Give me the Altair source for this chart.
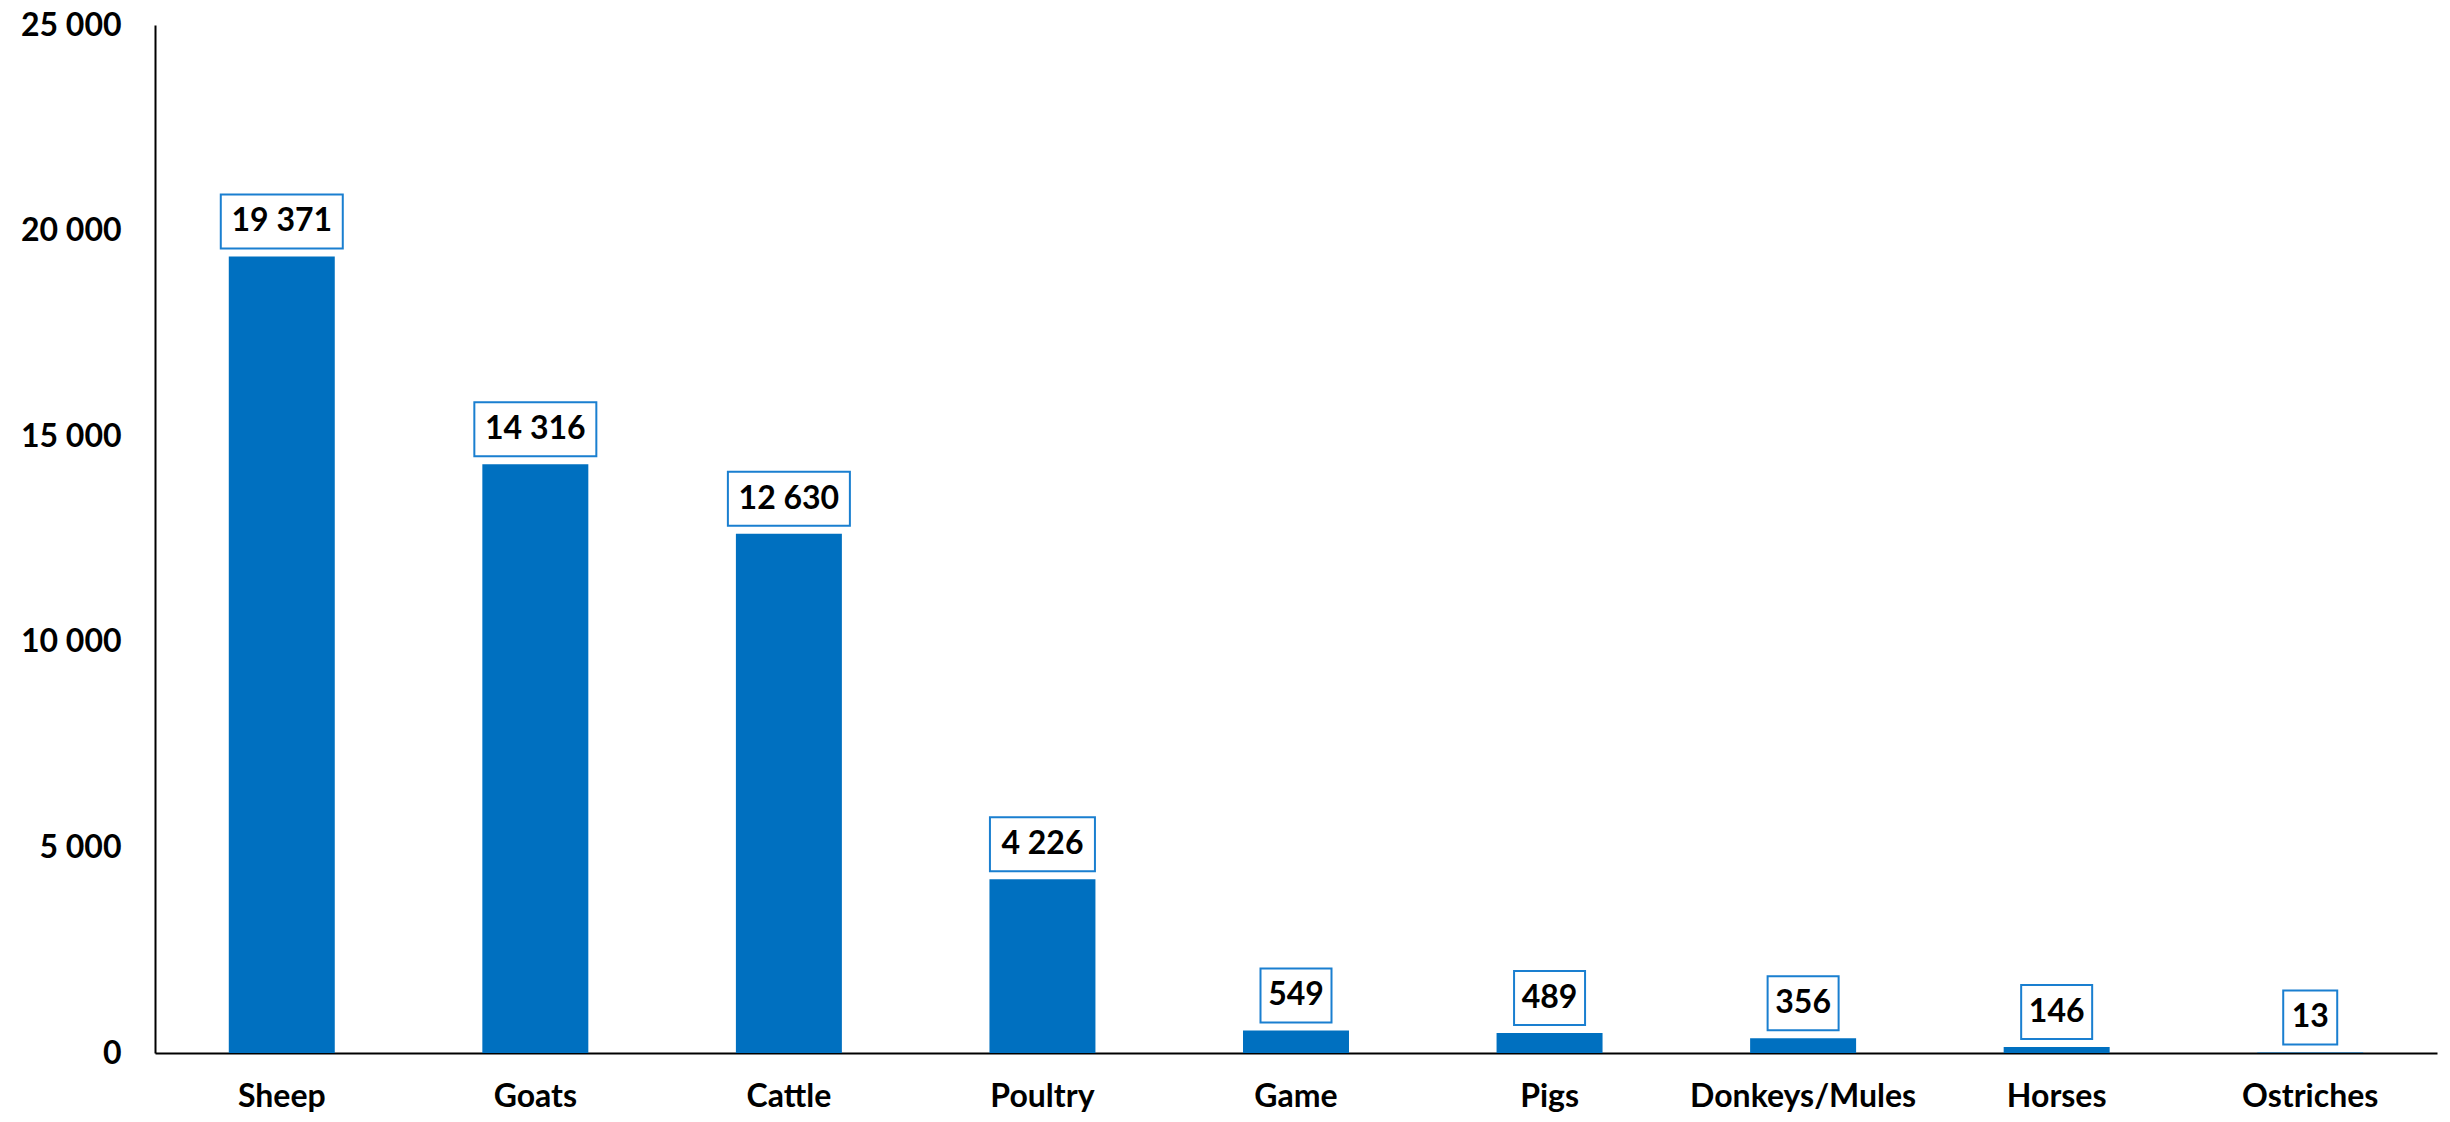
import altair as alt
import pandas as pd

categories = ["Sheep", "Goats", "Cattle", "Poultry", "Game", "Pigs", "Donkeys/Mules", "Horses", "Ostriches"]
values = [19371, 14316, 12630, 4226, 549, 489, 356, 146, 13]
y_ticks = [0, 5000, 10000, 15000, 20000, 25000]

df = pd.DataFrame({"cat": categories, "v": values})

FONT = "Lato"
BLUE = "#0070C0"

x = alt.X("cat:N", sort=categories, title=None,
          scale=alt.Scale(paddingInner=0.582, paddingOuter=0.291),
          axis=alt.Axis(labelAngle=0, labelFont=FONT, labelFontSize=32, labelFontWeight="bold",
                        labelColor="black", labelPadding=28, ticks=False, labelLimit=0,
                        domainColor="black", domainWidth=2))
y = alt.Y("v:Q", title=None,
          scale=alt.Scale(domain=[0, 25000], nice=False),
          axis=alt.Axis(values=y_ticks, grid=False, ticks=False, labelFont=FONT, labelFontSize=32,
                        labelFontWeight="bold", labelColor="black", labelPadding=34,
                        domainColor="black", domainWidth=2,
                        labelExpr="replace(format(datum.value, ','), ',', ' ')"))

base = alt.Chart(df).transform_calculate(
    label="replace(format(datum.v, ','), ',', ' ')"
)

bars = base.mark_bar(color=BLUE).encode(x=x, y=y)

boxes = base.mark_rect(
    fill="white", stroke="#1a7fd0", strokeWidth=2,
    width={"expr": "length(datum.label) * 17 + 20"},
    yOffset=-62, y2Offset=-8,
).encode(x=alt.X("cat:N", sort=categories), y="v:Q", y2="v:Q")

texts = base.mark_text(font=FONT, fontSize=32, fontWeight="bold", color="black",
                       baseline="middle", dy=-35).encode(
    x=alt.X("cat:N", sort=categories), y="v:Q", text="label:N")

chart = alt.layer(bars, boxes, texts).properties(
    width=2282, height=1028,
    autosize=alt.AutoSizeParams(type="none"),
    padding={"left": 147, "top": 17, "right": 5, "bottom": 60},
).configure_view(stroke=None)

chart.save("out.html", embed_options={"renderer": "svg", "actions": False})
